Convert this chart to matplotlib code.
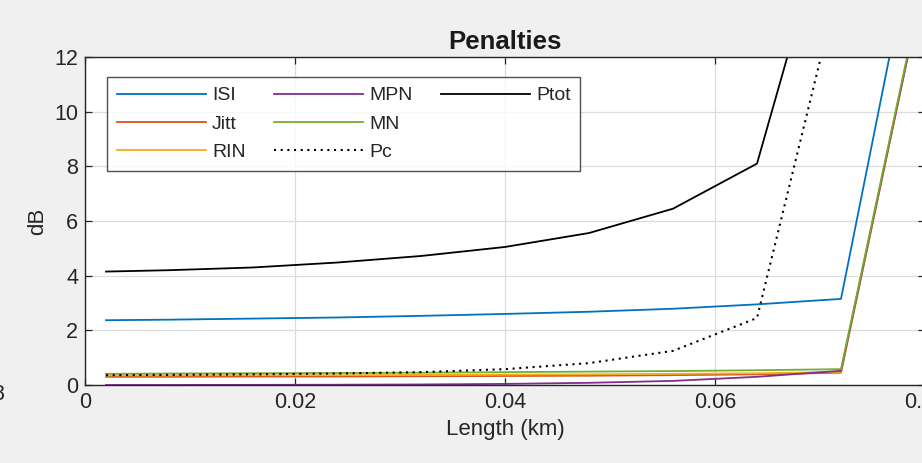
import matplotlib.pyplot as plt
from matplotlib.lines import Line2D

plt.rcParams['font.family'] = ['Liberation Sans', 'DejaVu Sans']

length_km = [0.002, 0.008, 0.016, 0.024, 0.032, 0.040, 0.048, 0.056, 0.064, 0.072, 0.080]

isi = [2.37, 2.39, 2.43, 2.47, 2.53, 2.60, 2.68, 2.79, 2.95, 3.15, 18.5]
jitt = [0.30, 0.30, 0.31, 0.31, 0.32, 0.33, 0.34, 0.36, 0.39, 0.45, 15.0]
rin = [0.35, 0.35, 0.36, 0.36, 0.37, 0.38, 0.39, 0.41, 0.43, 0.48, 15.0]
mpn = [0.0, 0.002, 0.005, 0.01, 0.02, 0.04, 0.08, 0.15, 0.30, 0.52, 15.0]
mn = [0.41, 0.42, 0.43, 0.44, 0.45, 0.47, 0.49, 0.51, 0.54, 0.58, 15.1]
pc = [0.36, 0.37, 0.39, 0.42, 0.47, 0.58, 0.80, 1.25, 2.45, 15.0, 30.0]
ptot = [4.15, 4.20, 4.30, 4.48, 4.72, 5.05, 5.56, 6.45, 8.10, 18.9, 35.0]

series = [
    ('ISI', isi, '#0072BD', '-'),
    ('Jitt', jitt, '#D95319', '-'),
    ('RIN', rin, '#EDB120', '-'),
    ('MPN', mpn, '#7E2F8E', '-'),
    ('MN', mn, '#77AC30', '-'),
    ('Pc', pc, 'black', (0, (1, 2.2))),
    ('Ptot', ptot, 'black', '-'),
]

fig = plt.figure(figsize=(9.22, 4.63), dpi=100, facecolor='#f0f0f0')
ax = fig.add_axes([85 / 922, 78 / 463, 840 / 922, 328 / 463])

handles = []
for name, vals, col, ls in series:
    lw = 1.5 if ls != '-' else 1.3
    ln, = ax.plot(length_km, vals, color=col, linestyle=ls, lw=lw, label=name)
    handles.append(ln)

ax.set_xlim(0, 0.08)
ax.set_ylim(0, 12)
ax.set_xticks([0, 0.02, 0.04, 0.06, 0.08])
ax.set_xticklabels(['0', '0.02', '0.04', '0.06', '0.08'])
ax.set_yticks(range(0, 13, 2))
ax.grid(True, color='#dcdcdc', lw=0.9)
ax.tick_params(direction='in', top=True, right=True, labelsize=15.5,
               colors='#262626', length=5, width=0.9, pad=5)
for s in ax.spines.values():
    s.set_color('#262626')
    s.set_linewidth(1.0)

ax.set_title('Penalties', fontsize=18.5, fontweight='bold', pad=6, color='#1a1a1a')
ax.set_xlabel('Length (km)', fontsize=16, color='#262626', labelpad=4)
ax.set_ylabel('dB', fontsize=16, color='#262626', labelpad=4)

# legend fills row by row in the reference: pad 3rd column with blanks
blank = Line2D([], [], color='none')
leg_h = handles[:6] + [handles[6], blank, blank]
leg_l = [s[0] for s in series[:6]] + ['Ptot', '', '']
leg = ax.legend(leg_h, leg_l, ncol=3, loc='upper left',
                bbox_to_anchor=(107 / 922, 1 - 77 / 463),
                bbox_transform=fig.transFigure, fontsize=14, frameon=True,
                fancybox=False, edgecolor='#262626', handlelength=4.6,
                handletextpad=0.3, columnspacing=1.45, labelspacing=0.55,
                borderpad=0.5, borderaxespad=0)
leg.get_frame().set_linewidth(1.0)
for t in leg.get_texts():
    t.set_color('#262626')

# bit of a neighbouring tick label cut off at the left edge
fig.text(-0.009, 1 - 395 / 463, '8', fontsize=15.5, color='#262626', va='center')

fig.savefig('out.png', dpi=100, facecolor=fig.get_facecolor())
